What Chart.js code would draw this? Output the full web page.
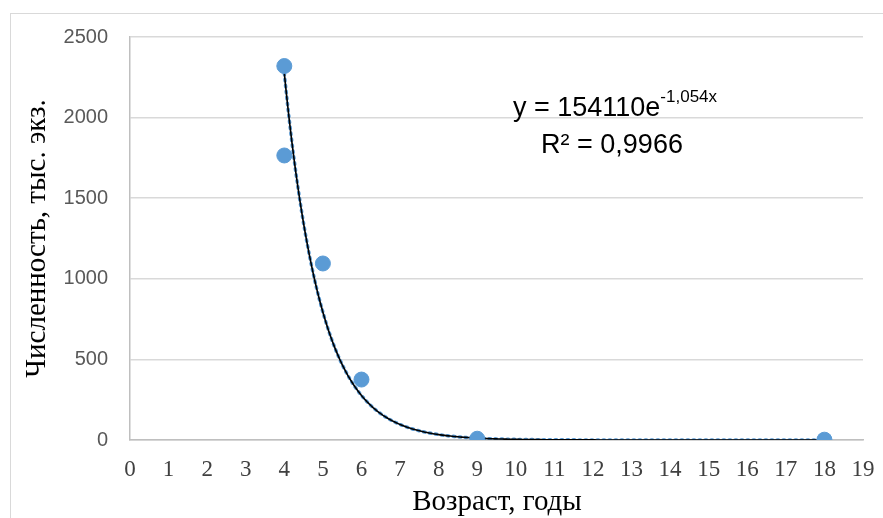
<!DOCTYPE html>
<html>
<head>
<meta charset="utf-8">
<script src="https://cdn.jsdelivr.net/npm/chart.js@4.4.0/dist/chart.umd.min.js"></script>
<style>
  html, body { margin: 0; padding: 0; background: #fff; }
  #wrap { width: 883px; height: 518px; position: relative; }
</style>
</head>
<body>
<div id="wrap"><canvas id="chart"></canvas></div>
<script>
// data
const ages = [4, 4, 5, 6, 9, 18];
const counts = [2320, 1765, 1095, 375, 8, 2];

// trendline as printed on the chart: y = 154110e^(-1,054x)
const trendA = 154110;
const trendB = -1.054;
const trendFrom = 4;
const trendTo = 18;

const xTicks = [0, 19];
const yTicks = [0, 2500, 500];

const xTitle = 'Возраст, годы';
const yTitle = 'Численность, тыс. экз.';

const points = ages.map((a, i) => ({ x: a, y: counts[i] }));

const trend = [];
for (let x = trendFrom; x <= trendTo + 1e-9; x += 0.05) {
  trend.push({ x: x, y: trendA * Math.exp(trendB * x) });
}

const serif = '"Liberation Serif", "Times New Roman", serif';
const sans = '"Liberation Sans", Arial, sans-serif';

const frame = {
  id: 'frame',
  beforeDraw(chart) {
    const ctx = chart.ctx;
    ctx.save();
    ctx.strokeStyle = '#d9d9d9';
    ctx.lineWidth = 1;
    ctx.strokeRect(10.5, 13.5, 900, 600);
    ctx.restore();
  }
};

const labels = {
  id: 'labels',
  afterDraw(chart) {
    const ctx = chart.ctx;
    const area = chart.chartArea;
    ctx.save();
    ctx.fillStyle = '#000';

    // axis titles
    ctx.font = '29px ' + serif;
    ctx.textAlign = 'center';
    ctx.textBaseline = 'middle';
    ctx.fillText(xTitle, 497, 502);

    ctx.save();
    ctx.translate(45, (area.top + area.bottom) / 2);
    ctx.rotate(-Math.PI / 2);
    ctx.textBaseline = 'alphabetic';
    ctx.font = '29px ' + serif;
    ctx.fillText(yTitle, 0, 0);
    ctx.restore();

    // trendline equation
    ctx.textBaseline = 'alphabetic';
    const main = 'y = 154110e';
    const sup = '-1,054x';
    ctx.font = '27px ' + sans;
    const w1 = ctx.measureText(main).width;
    ctx.font = '17px ' + sans;
    const w2 = ctx.measureText(sup).width;
    const x0 = 615 - (w1 + w2) / 2;
    ctx.textAlign = 'left';
    ctx.font = '27px ' + sans;
    ctx.fillText(main, x0, 116);
    ctx.font = '17px ' + sans;
    ctx.fillText(sup, x0 + w1, 102);
    ctx.textAlign = 'center';
    ctx.font = '27px ' + sans;
    ctx.fillText('R² = 0,9966', 612, 153);
    ctx.restore();
  }
};

new Chart(document.getElementById('chart'), {
  type: 'scatter',
  data: {
    datasets: [
      {
        data: trend,
        showLine: true,
        borderColor: '#000',
        borderWidth: 1.6,
        pointRadius: 0,
        tension: 0,
        order: 2
      },
      {
        data: trend,
        showLine: true,
        borderColor: '#5b9bd5',
        borderWidth: 3.5,
        borderDash: [1.5, 4.5],
        borderCapStyle: 'round',
        pointRadius: 0,
        tension: 0,
        order: 3
      },
      {
        data: points,
        backgroundColor: '#5b9bd5',
        borderColor: '#5b9bd5',
        pointRadius: 7.5,
        order: 1
      }
    ]
  },
  options: {
    responsive: true,
    maintainAspectRatio: false,
    animation: false,
    layout: { padding: { left: 0, right: 20, top: 37, bottom: 0 } },
    plugins: { legend: { display: false }, tooltip: { enabled: false } },
    scales: {
      x: {
        type: 'linear',
        min: xTicks[0],
        max: xTicks[1],
        afterFit(scale) { scale.height = 78; },
        ticks: {
          stepSize: 1,
          padding: 8,
          color: '#404040',
          font: { family: serif, size: 23 }
        },
        grid: { display: false },
        border: { display: true, color: '#bfbfbf', width: 1.5 }
      },
      y: {
        min: yTicks[0],
        max: yTicks[1],
        afterFit(scale) { scale.width = 130; },
        ticks: {
          stepSize: yTicks[2],
          padding: 22,
          color: '#595959',
          font: { family: sans, size: 20 },
          callback: v => String(v)
        },
        grid: { color: '#d9d9d9', lineWidth: 1.5, drawTicks: false },
        border: { display: true, color: '#bfbfbf', width: 1.5 }
      }
    }
  },
  plugins: [frame, labels]
});
</script>
</body>
</html>
